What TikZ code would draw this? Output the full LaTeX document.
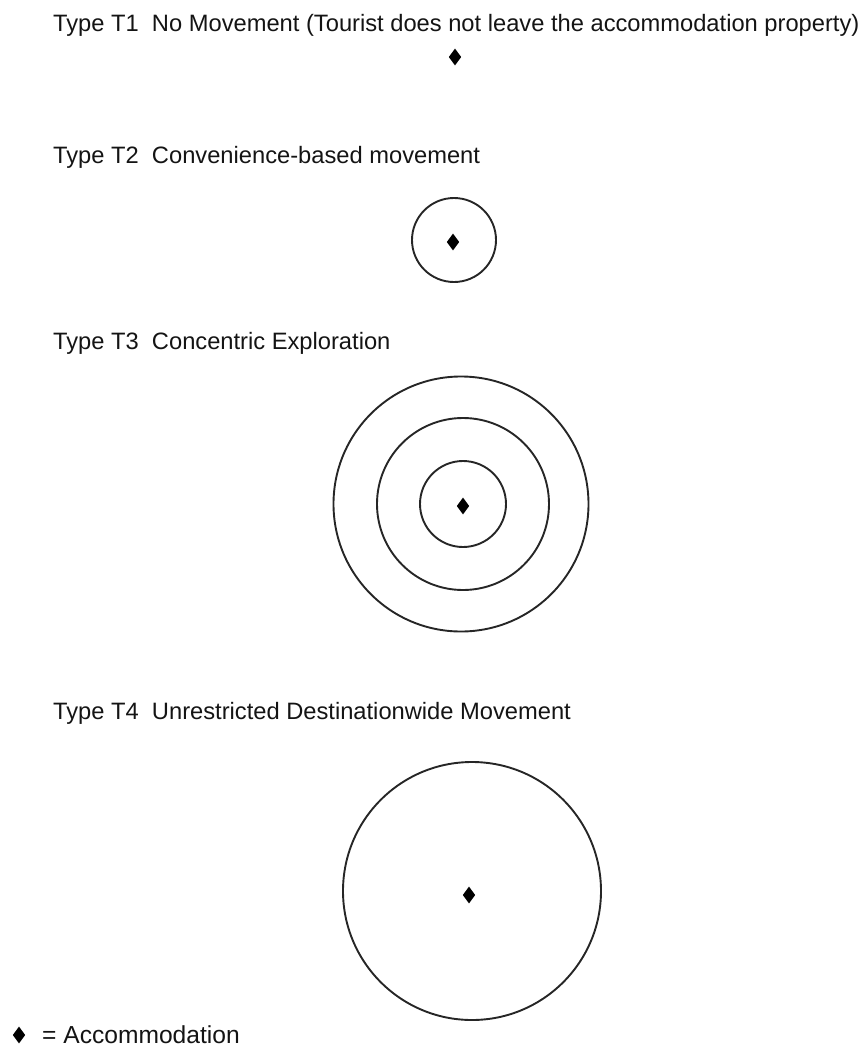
\documentclass[tikz,border=0pt]{standalone}
\usepackage{fontspec}
\setmainfont{Liberation Sans}
\usetikzlibrary{shapes.geometric}
\begin{document}
\begin{tikzpicture}[x=1pt,y=-1pt,
  title/.style={anchor=base west,inner sep=0pt,font=\fontsize{23.7}{28}\selectfont,text=black!92},
  acc/.style={shape=diamond,fill=black,draw=none,inner sep=0pt,minimum width=12.5pt,minimum height=17pt},
  ring/.style={shape=circle,draw=black!85,line width=1.9pt,inner sep=0pt,minimum size=#1}]
  \useasboundingbox (0,0) rectangle (861,1053);

  % Type T1: no movement
  \node[title] (t1) at (53,31.5) {Type T1~~No Movement (Tourist does not leave the accommodation property)};
  \node[acc] (a1) at (455,57) {};

  % Type T2: convenience-based
  \node[title] (t2) at (53,163.5) {Type T2~~Convenience-based movement};
  \node[ring=84pt] (c2) at (454,240) {};
  \node[acc] (a2) at (453,242) {};

  % Type T3: concentric exploration
  \node[title] (t3) at (53,349) {Type T3~~Concentric Exploration};
  \node[ring=255pt] (c3o) at (461,504) {};
  \node[ring=172pt] (c3m) at (463,504) {};
  \node[ring=86pt]  (c3i) at (463,504) {};
  \node[acc] (a3) at (463,506) {};

  % Type T4: unrestricted destination-wide movement
  \node[title] (t4) at (53,719) {Type T4~~Unrestricted Destinationwide Movement};
  \node[ring=258pt] (c4) at (472,891) {};
  \node[acc] (a4) at (469,895) {};

  % legend
  \node[acc] (al) at (19,1035) {};
  \node[title,font=\fontsize{24.6}{28}\selectfont] (lg) at (42,1043) {= Accommodation};
\end{tikzpicture}
\end{document}
